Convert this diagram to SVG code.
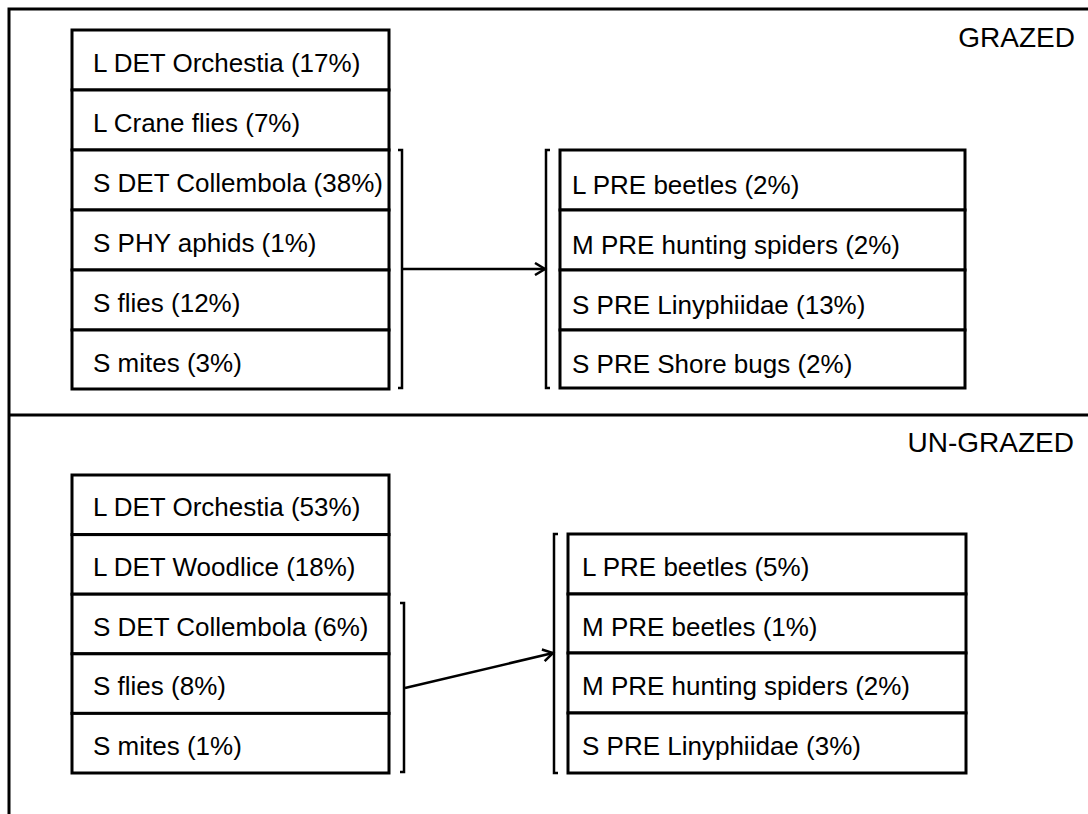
<svg xmlns="http://www.w3.org/2000/svg" width="1088" height="814" viewBox="0 0 1088 814">
<style>
.box{fill:#fff;stroke:#000;stroke-width:3}
.t{font-family:"Liberation Sans",Arial,sans-serif;font-size:26px;fill:#000}
.h{font-family:"Liberation Sans",Arial,sans-serif;font-size:28px;fill:#000;text-anchor:end}
.fr{stroke:#000;stroke-width:3;fill:none}
.br{stroke:#000;stroke-width:2.5;fill:none}
.ar{stroke:#000;stroke-width:2.5;fill:none;marker-end:url(#ah)}
</style>
<defs>
<marker id="ah" markerWidth="14" markerHeight="14" refX="11" refY="7" orient="auto" markerUnits="userSpaceOnUse">
<path d="M1,1 L11,7 L1,13" fill="none" stroke="#000" stroke-width="2.5"/>
</marker>
</defs>
<rect width="1088" height="814" fill="#fff"/>
<g id="frame">
<path class="fr" d="M9,814 L9,9 L1088,9"/>
<path class="fr" d="M9,415 L1088,415"/>
</g>
<text class="h" x="1075" y="47">GRAZED</text>
<text class="h" x="1074" y="452">UN-GRAZED</text>

<g id="grazed-prey">
<g id="g1"><rect class="box" x="72" y="30" width="317" height="60"/><text class="t" x="93" y="72">L DET Orchestia (17%)</text></g>
<g id="g2"><rect class="box" x="72" y="90" width="317" height="60"/><text class="t" x="93" y="132">L Crane flies (7%)</text></g>
<g id="g3"><rect class="box" x="72" y="150" width="317" height="60"/><text class="t" x="93" y="192">S DET Collembola (38%)</text></g>
<g id="g4"><rect class="box" x="72" y="210" width="317" height="60"/><text class="t" x="93" y="252">S PHY aphids (1%)</text></g>
<g id="g5"><rect class="box" x="72" y="270" width="317" height="60"/><text class="t" x="93" y="312">S flies (12%)</text></g>
<g id="g6"><rect class="box" x="72" y="330" width="317" height="59"/><text class="t" x="93" y="372">S mites (3%)</text></g>
</g>

<g id="grazed-pred">
<g id="g7"><rect class="box" x="560" y="150" width="405" height="60"/><text class="t" x="572" y="194">L PRE beetles (2%)</text></g>
<g id="g8"><rect class="box" x="560" y="210" width="405" height="60"/><text class="t" x="572" y="254">M PRE hunting spiders (2%)</text></g>
<g id="g9"><rect class="box" x="560" y="270" width="405" height="60"/><text class="t" x="572" y="314">S PRE Linyphiidae (13%)</text></g>
<g id="g10"><rect class="box" x="560" y="330" width="405" height="58"/><text class="t" x="572" y="373">S PRE Shore bugs (2%)</text></g>
</g>

<g id="ungrazed-prey">
<g id="u1"><rect class="box" x="72" y="475" width="317" height="59.6"/><text class="t" x="93" y="516">L DET Orchestia (53%)</text></g>
<g id="u2"><rect class="box" x="72" y="534.6" width="317" height="59.6"/><text class="t" x="93" y="576">L DET Woodlice (18%)</text></g>
<g id="u3"><rect class="box" x="72" y="594.2" width="317" height="59.6"/><text class="t" x="93" y="636">S DET Collembola (6%)</text></g>
<g id="u4"><rect class="box" x="72" y="653.8" width="317" height="59.6"/><text class="t" x="93" y="695">S flies (8%)</text></g>
<g id="u5"><rect class="box" x="72" y="713.4" width="317" height="59.6"/><text class="t" x="93" y="755">S mites (1%)</text></g>
</g>

<g id="ungrazed-pred">
<g id="u6"><rect class="box" x="568" y="534" width="398" height="60"/><text class="t" x="582" y="576">L PRE beetles (5%)</text></g>
<g id="u7"><rect class="box" x="568" y="594" width="398" height="59"/><text class="t" x="582" y="636">M PRE beetles (1%)</text></g>
<g id="u8"><rect class="box" x="568" y="653" width="398" height="60"/><text class="t" x="582" y="695">M PRE hunting spiders (2%)</text></g>
<g id="u9"><rect class="box" x="568" y="713" width="398" height="60"/><text class="t" x="582" y="755">S PRE Linyphiidae (3%)</text></g>
</g>

<g id="connectors">
<path class="br" d="M398,150 L402,150 L402,388 L398,388"/>
<path class="br" d="M550,150 L546,150 L546,388 L550,388"/>
<path class="ar" d="M402,269 L545,269"/>
<path class="br" d="M400,603 L404,603 L404,772 L400,772"/>
<path class="br" d="M558,534 L554,534 L554,773 L558,773"/>
<path class="ar" d="M405,688 L553,653"/>
</g>
</svg>
